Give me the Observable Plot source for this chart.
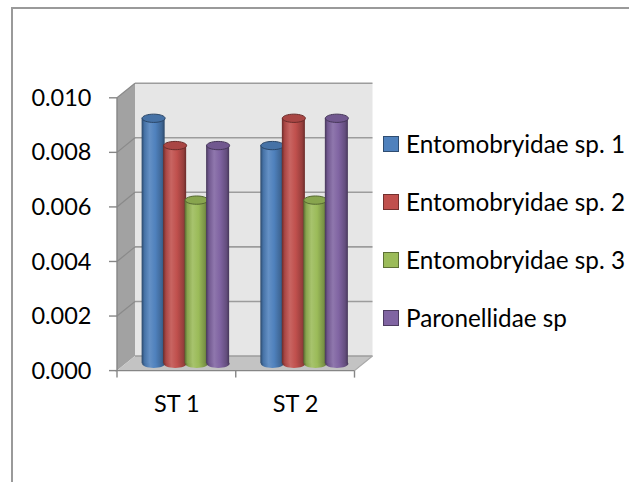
<!DOCTYPE html>
<html>
<head>
<meta charset="utf-8">
<script src="https://cdn.jsdelivr.net/npm/d3@7"></script>
<script src="https://cdn.jsdelivr.net/npm/@observablehq/plot@0.6"></script>
<style>
html, body { margin: 0; padding: 0; background: #fff; overflow: hidden; }
#wrap { position: relative; width: 629px; height: 482px; overflow: hidden; }
#border { position: absolute; left: 11px; top: 7px; width: 700px; height: 600px; border: 2px solid #9a9a9a; box-sizing: border-box; pointer-events: none; z-index: 2; }
#legend { position: absolute; left: 383px; top: 0; z-index: 3; font-family: Lato, "Noto Sans", sans-serif; font-size: 24.3px; color: #000; }
.item { position: absolute; left: 0; height: 30px; line-height: 30px; white-space: nowrap; display: flex; align-items: center; }
.sw { width: 14px; height: 14px; border: 1px solid; margin-right: 7px; flex: none; }
</style>
</head>
<body>
<div id="wrap"><div id="border"></div><div id="legend"></div></div>
<script>
// ---- data ----
const categories = ["ST 1", "ST 2"];
const seriesNames = ["Entomobryidae sp. 1", "Entomobryidae sp. 2", "Entomobryidae sp. 3", "Paronellidae sp"];
const seriesColors = ["#4F81BD", "#C0504D", "#9BBB59", "#8064A2"];
const sp1Values = [0.009, 0.008];
const sp2Values = [0.008, 0.009];
const sp3Values = [0.006, 0.006];
const paroValues = [0.008, 0.009];
const yTicks = [0, 0.002, 0.004, 0.006, 0.008, 0.010];

const seriesValues = [sp1Values, sp2Values, sp3Values, paroValues];
const rows = [];
seriesValues.forEach((vals, si) => vals.forEach((v, ci) => rows.push({cat: categories[ci], ci, series: seriesNames[si], si, value: v})));

// ---- layout / style ----
const DX = 9, DY = 7.3;          // half depth offset (px)
const STEP = 0.181, W = 0.194;   // in category units
const R = 11.5;                  // cylinder radius (px)
const FONT = "Lato, 'Noto Sans', sans-serif";
const FS = 23.5;

const mix = (c, t, k) => d3.interpolateRgb(c, t)(k);
const xc = d => d.ci + 0.5 + (d.si - 1.5) * STEP;

const ellipse = {
  draw(ctx, size) {
    const rx = Math.sqrt(size / Math.PI), ry = rx * 0.36, k = 0.5523;
    ctx.moveTo(-rx, 0);
    ctx.bezierCurveTo(-rx, -ry * k, -rx * k, -ry, 0, -ry);
    ctx.bezierCurveTo(rx * k, -ry, rx, -ry * k, rx, 0);
    ctx.bezierCurveTo(rx, ry * k, rx * k, ry, 0, ry);
    ctx.bezierCurveTo(-rx * k, ry, -rx, ry * k, -rx, 0);
    ctx.closePath();
  }
};

function defs() {
  const d = d3.create("svg:defs");
  seriesColors.forEach((c, j) => {
    const g = d.append("linearGradient").attr("id", "cyl" + j).attr("x1", 0).attr("x2", 1).attr("y1", 0).attr("y2", 0);
    [[0, mix(c, "#000", 0.45)], [0.12, mix(c, "#000", 0.12)], [0.35, mix(c, "#fff", 0.12)],
     [0.6, c], [0.88, mix(c, "#000", 0.22)], [1, mix(c, "#000", 0.45)]]
      .forEach(([o, col]) => g.append("stop").attr("offset", o).attr("stop-color", col));
  });
  return d.node();
}

function scenery(index, scales) {
  const {x, y} = scales;
  const P = (xv, yv, d) => [x(xv) + d * DX, y(yv) - d * DY];
  const poly = pts => "M" + pts.map(p => p.join(",")).join("L") + "Z";
  const line = (a, b) => "M" + a.join(",") + "L" + b.join(",");
  const g = d3.create("svg:g");
  const top = yTicks[yTicks.length - 1];
  g.append("path").attr("d", poly([P(0, 0, 1), P(2, 0, 1), P(2, top, 1), P(0, top, 1)])).attr("fill", "#e6e6e6");
  g.append("path").attr("d", poly([P(0, 0, -1), P(0, 0, 1), P(0, top, 1), P(0, top, -1)])).attr("fill", "#a2a2a2");
  g.append("path").attr("d", poly([P(0, 0, -1), P(2, 0, -1), P(2, 0, 1), P(0, 0, 1)])).attr("fill", "#c3c3c3");
  for (const v of yTicks) {
    g.append("path").attr("d", line(P(0, v, 1), P(2, v, 1))).attr("stroke", "#9c9c9c").attr("stroke-width", 1.6).attr("fill", "none");
    if (v > 0) g.append("path").attr("d", line(P(0, v, -1), P(0, v, 1))).attr("stroke", "#8a8a8a").attr("stroke-width", 1.2).attr("fill", "none");
  }
  g.append("path").attr("d", line(P(2, 0, -1), P(2, 0, 1))).attr("stroke", "#a8a8a8").attr("stroke-width", 1.2).attr("fill", "none");
  return g.node();
}

function axes(index, scales) {
  const {x, y} = scales;
  const P = (xv, yv, d) => [x(xv) + d * DX, y(yv) - d * DY];
  const g = d3.create("svg:g").attr("stroke", "#868686").attr("stroke-width", 1.4).attr("fill", "none");
  const a = P(0, 0, -1), b = P(0, yTicks[yTicks.length - 1], -1);
  g.append("path").attr("d", `M${a}L${b}`);
  for (const v of yTicks) { const p = P(0, v, -1); g.append("path").attr("d", `M${p[0] - 8},${p[1]}H${p[0]}`); }
  const c = P(2, 0, -1);
  g.append("path").attr("d", `M${a[0] - 2},${a[1]}H${c[0]}`);
  for (let i = 0; i <= categories.length; i++) { const p = P(i, 0, -1); g.append("path").attr("d", `M${p[0]},${p[1]}V${p[1] + 7}`); }
  return g.node();
}

const cylMarks = [];
seriesNames.forEach((s, j) => {
  const data = rows.filter(d => d.si === j);
  const c = seriesColors[j];
  cylMarks.push(
    Plot.dot(data, {x: xc, y: () => 0, r: R, symbol: ellipse, fill: `url(#cyl${j})`, stroke: "none"}),
    Plot.rect(data, {x1: d => xc(d) - W / 2, x2: d => xc(d) + W / 2, y1: () => 0, y2: "value", fill: `url(#cyl${j})`, inset: 0}),
    Plot.dot(data, {x: xc, y: "value", r: R, symbol: ellipse, fill: mix(c, "#000", 0.12), stroke: mix(c, "#000", 0.45), strokeWidth: 1})
  );
});

const chart = Plot.plot({
  width: 629,
  height: 482,
  style: {background: "transparent", fontFamily: FONT, fontSize: FS + "px", overflow: "visible"},
  x: {type: "linear", domain: [0, categories.length], range: [126, 363.5], axis: null},
  y: {type: "linear", domain: [0, 0.010], range: [363.3, 90.5], axis: null},
  marks: [
    defs,
    scenery,
    ...cylMarks,
    axes,
    Plot.text(yTicks, {x: () => 0, y: d => d, text: d => d3.format(".3f")(d), dx: -35, dy: DY, textAnchor: "end", fontSize: FS, fontFamily: FONT, fill: "#000"}),
    Plot.text(categories, {x: (d, i) => i + 0.5, y: () => 0, text: d => d, dx: -DX, dy: 40.7, fontSize: FS, fontFamily: FONT, fill: "#000"})
  ]
});
document.getElementById("wrap").prepend(chart);

// legend
const legend = d3.select("#legend");
seriesNames.forEach((s, j) => {
  const it = legend.append("div").attr("class", "item").style("top", (143.5 + 58 * j - 15) + "px");
  it.append("div").attr("class", "sw").style("background", seriesColors[j]).style("border-color", mix(seriesColors[j], "#000", 0.4));
  it.append("span").text(s);
});
</script>
</body>
</html>
